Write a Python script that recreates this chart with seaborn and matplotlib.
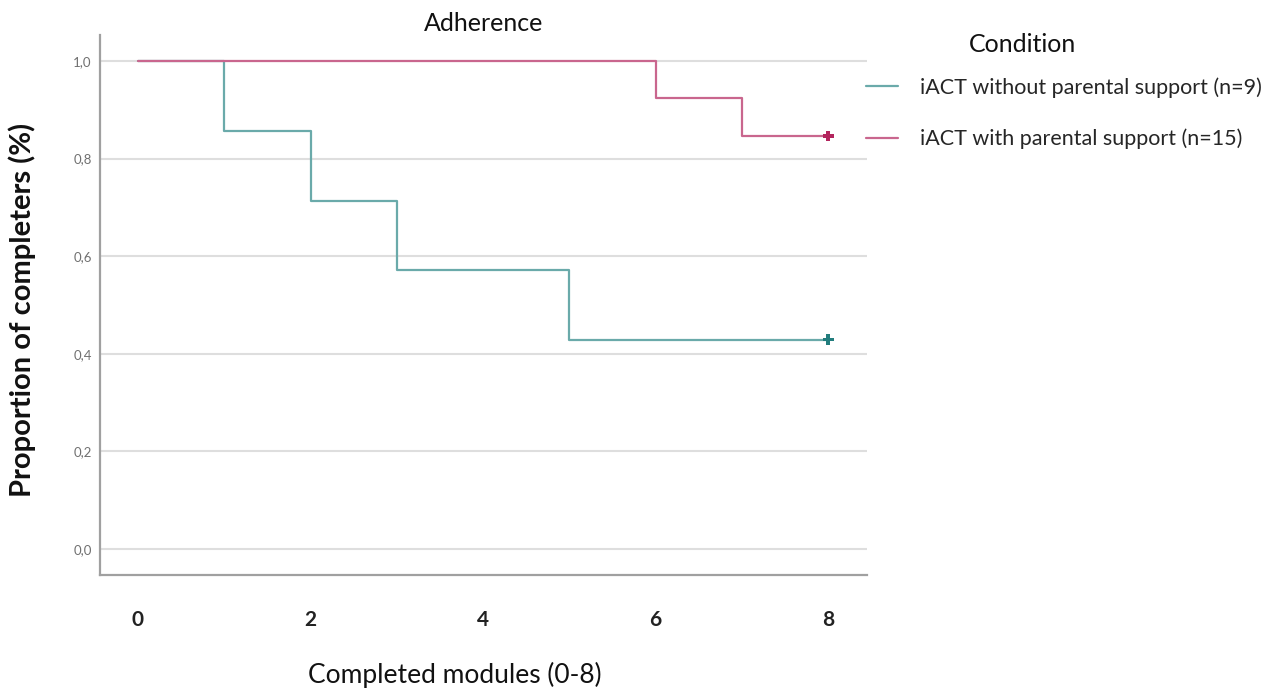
import matplotlib
matplotlib.use("Agg")
import matplotlib.pyplot as plt
from matplotlib.lines import Line2D
from matplotlib.ticker import FuncFormatter
import seaborn as sns
import pandas as pd

# ---- data ----
groups = ["iACT without parental support (n=9)", "iACT with parental support (n=15)"]
without_x = [0, 1, 2, 3, 5, 8]
without_y = [1.0, 0.857, 0.714, 0.571, 0.429, 0.429]
with_x = [0, 6, 7, 8]
with_y = [1.0, 0.923, 0.846, 0.846]
censor_x = [8, 8]
censor_y = [0.429, 0.846]
x_ticks = [0, 2, 4, 6, 8]
y_ticks = [0.0, 0.2, 0.4, 0.6, 0.8, 1.0]

line_colors = ["#6aaaaa", "#c9668e"]
mark_colors = ["#227d7d", "#b3255d"]

df = pd.DataFrame({
    "x": without_x + with_x,
    "y": without_y + with_y,
    "group": [groups[0]] * len(without_x) + [groups[1]] * len(with_x),
})
cens = pd.DataFrame({"x": censor_x, "y": censor_y, "group": groups})

sns.set_theme(style="white")
plt.rcParams["font.family"] = ["Lato", "DejaVu Sans"]

fig = plt.figure(figsize=(12.72, 6.93), dpi=100)
ax = fig.add_axes([100 / 1272, 1 - 575 / 693, 767 / 1272, 540 / 693])

for yv in y_ticks:
    ax.axhline(yv, color="#dedede", lw=1.5, zorder=0)

sns.lineplot(data=df, x="x", y="y", hue="group", hue_order=groups,
             palette=line_colors, drawstyle="steps-post", lw=1.6,
             legend=False, ax=ax, estimator=None, sort=False)
sns.scatterplot(data=cens, x="x", y="y", hue="group", hue_order=groups,
                palette=mark_colors, marker="P", s=60, linewidth=0,
                legend=False, ax=ax, zorder=5)

ax.set_xlim(-0.44, 8.45)
ax.set_ylim(-0.053, 1.053)
ax.set_xticks(x_ticks)
ax.set_yticks(y_ticks)
ax.yaxis.set_major_formatter(FuncFormatter(lambda v, p: f"{v:.1f}".replace(".", ",")))
ax.tick_params(axis="x", length=0, pad=25, labelsize=15, labelcolor="#222222")
ax.tick_params(axis="y", length=0, pad=6, labelsize=9.5, labelcolor="#707070")
for lab in ax.get_xticklabels():
    lab.set_fontweight("bold")

for s in ["top", "right"]:
    ax.spines[s].set_visible(False)
for s in ["left", "bottom"]:
    ax.spines[s].set_color("#a0a0a0")
    ax.spines[s].set_linewidth(1.6)

ax.set_title("Adherence", fontsize=18, pad=3, color="#111111")
ax.set_xlabel("Completed modules (0-8)", fontsize=19, color="#111111")
ax.set_ylabel("Proportion of completers (%)", fontsize=21, fontweight="bold", color="#111111")
ax.xaxis.set_label_coords(0.463, -0.16)
ax.yaxis.set_label_coords(-0.083, 0.49)

fig.text(1023 / 1272, 1 - 44 / 693, "Condition", fontsize=18, ha="center", va="center",
         color="#111111")
handles = [Line2D([0], [0], color=c, lw=1.6) for c in line_colors]
fig.legend(handles, groups, loc="upper left", bbox_to_anchor=(866 / 1272, 1 - 77 / 693),
           frameon=False, fontsize=15.5, handlelength=1.5, handletextpad=1.0,
           labelspacing=1.45, borderaxespad=0, borderpad=0)

fig.savefig("out.png", dpi=100, facecolor="white")
